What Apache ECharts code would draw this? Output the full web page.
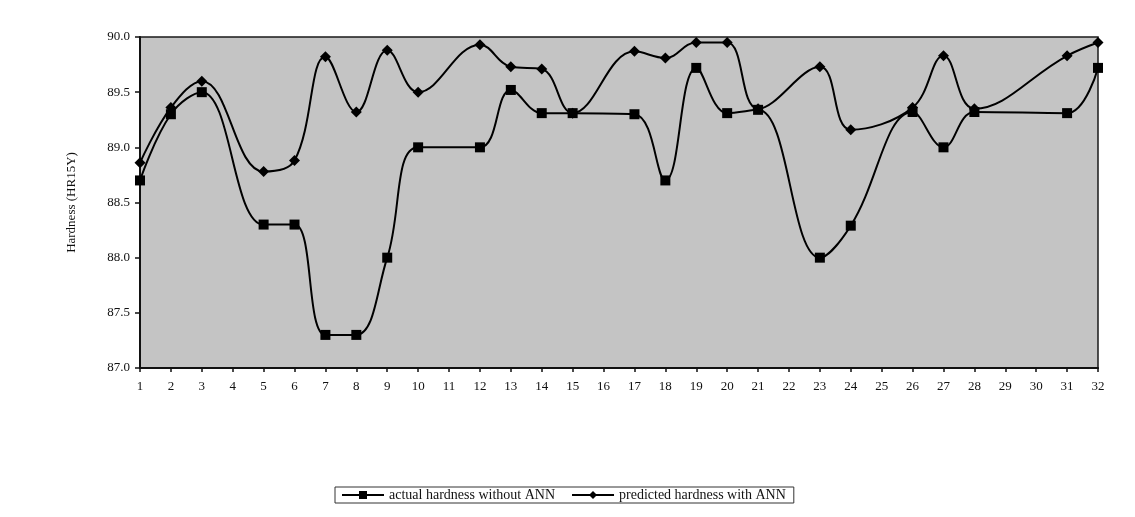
<!DOCTYPE html>
<html>
<head>
<meta charset="utf-8">
<script src="https://cdn.jsdelivr.net/npm/echarts@6/dist/echarts.min.js"></script>
<style>
html,body{margin:0;padding:0;background:#fff;}
#chart{width:1135px;height:517px;}
</style>
</head>
<body>
<div id="chart"></div>
<script>
const categories = ['1','2','3','4','5','6','7','8','9','10','11','12','13','14','15','16','17','18','19','20','21','22','23','24','25','26','27','28','29','30','31','32'];
const actualHardness = [88.70, 89.30, 89.50, null, 88.30, 88.30, 87.30, 87.30, 88.00, 89.00, null, 89.00, 89.52, 89.31, 89.31, null, 89.30, 88.70, 89.72, 89.31, 89.34, null, 88.00, 88.29, null, 89.32, 89.00, 89.32, null, null, 89.31, 89.72];
const predictedHardness = [88.86, 89.36, 89.60, null, 88.78, 88.88, 89.82, 89.32, 89.88, 89.50, null, 89.93, 89.73, 89.71, 89.31, null, 89.87, 89.81, 89.95, 89.95, 89.35, null, 89.73, 89.16, null, 89.36, 89.83, 89.35, null, null, 89.83, 89.95];
const yTicks = ['87.0','87.5','88.0','88.5','89.0','89.5','90.0'];

const font = 'Liberation Serif';
const chart = echarts.init(document.getElementById('chart'), null, {renderer: 'canvas'});
chart.setOption({
  backgroundColor: '#ffffff',
  animation: false,
  grid: {
    left: 140, top: 37, width: 958, height: 331,
    show: true, backgroundColor: '#c4c4c4',
    borderColor: '#1a1a1a', borderWidth: 1.5
  },
  legend: {
    top: 487, left: 335,
    backgroundColor: '#ffffff',
    borderColor: '#333', borderWidth: 1,
    padding: [1, 8, 1, 6],
    itemGap: 16, itemWidth: 42, itemHeight: 10,
    textStyle: {fontFamily: font, fontSize: 14, color: '#111'},
    data: [
      {name: 'actual hardness without ANN'},
      {name: 'predicted hardness with ANN'}
    ]
  },
  xAxis: {
    type: 'category',
    data: categories,
    boundaryGap: false,
    axisLine: {lineStyle: {color: '#111', width: 2}},
    axisTick: {show: true, inside: false, length: 4, lineStyle: {color: '#111', width: 1.5}},
    axisLabel: {fontFamily: font, fontSize: 13, color: '#111', margin: 12, interval: 0},
    splitLine: {show: false}
  },
  yAxis: {
    type: 'value',
    min: 87, max: 90, interval: 0.5,
    name: 'Hardness (HR15Y)',
    nameLocation: 'middle',
    nameGap: 62,
    nameTextStyle: {fontFamily: font, fontSize: 13, color: '#111'},
    axisLine: {show: true, lineStyle: {color: '#111', width: 2}},
    axisTick: {show: true, length: 5, lineStyle: {color: '#111', width: 1.5}},
    axisLabel: {
      fontFamily: font, fontSize: 13, color: '#111', margin: 10,
      formatter: function (v) { const i = Math.round((v - 87) / 0.5); return yTicks[i] !== undefined ? yTicks[i] : v.toFixed(1); }
    },
    splitLine: {show: false}
  },
  series: [
    {
      name: 'actual hardness without ANN',
      type: 'line',
      data: actualHardness,
      connectNulls: true,
      smooth: 0.4,
      symbol: 'rect', symbolSize: 10,
      itemStyle: {color: '#000'},
      lineStyle: {color: '#000', width: 2}
    },
    {
      name: 'predicted hardness with ANN',
      type: 'line',
      data: predictedHardness,
      connectNulls: true,
      smooth: 0.4,
      symbol: 'diamond', symbolSize: 11,
      itemStyle: {color: '#000'},
      lineStyle: {color: '#000', width: 2}
    }
  ]
});
</script>
</body>
</html>
